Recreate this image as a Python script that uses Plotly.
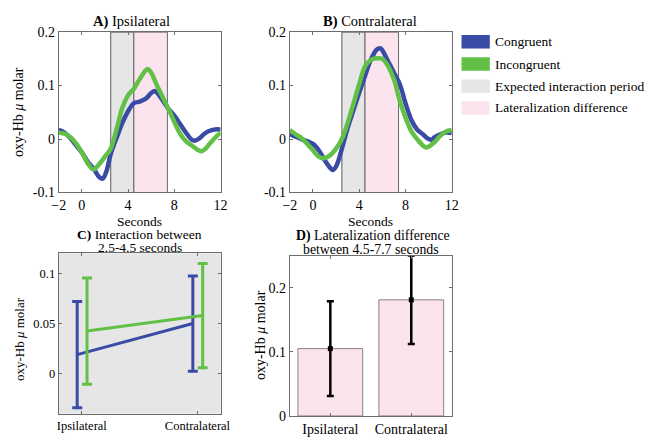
import plotly.graph_objects as go

# ---------------- data ----------------
# Panel A (Ipsilateral) time courses
tA_cong = [-2, -1.5, -1, -0.5, 0, 0.5, 1, 1.5, 1.8, 2.1, 2.5, 3, 3.5, 4, 4.5, 5, 5.5, 6, 6.3, 6.6,
           7, 7.5, 8, 8.5, 9, 9.5, 9.8, 10.2, 10.6, 11, 11.5, 12]
yA_cong = [0.017, 0.012, 0.002, -0.012, -0.025, -0.042, -0.055, -0.071, -0.074, -0.062, -0.028, 0.002,
           0.030, 0.052, 0.067, 0.070, 0.075, 0.086, 0.090, 0.084, 0.072, 0.056, 0.044, 0.028, 0.012,
           -0.001, -0.003, 0.002, 0.010, 0.015, 0.018, 0.018]
tA_inc = [-2, -1.5, -1, -0.5, 0, 0.5, 1, 1.5, 2, 2.5, 3, 3.5, 4, 4.5, 5, 5.5, 5.7, 6, 6.5, 7, 7.5, 8,
          8.5, 9, 9.5, 10, 10.3, 10.6, 11, 11.5, 12]
yA_inc = [0.012, 0.010, 0.004, -0.008, -0.025, -0.045, -0.057, -0.047, -0.033, -0.018, 0.018, 0.058,
          0.082, 0.094, 0.112, 0.128, 0.131, 0.124, 0.100, 0.078, 0.056, 0.032, 0.010, -0.004, -0.012,
          -0.020, -0.023, -0.020, -0.010, 0.002, 0.012]

# Panel B (Contralateral) time courses
tB_cong = [-2, -1, -0.5, 0, 0.5, 1, 1.5, 1.7, 2, 2.5, 3, 3.5, 4, 4.5, 5, 5.5, 5.8, 6, 6.5, 7, 7.5, 8,
           8.5, 9, 9.5, 10, 10.3, 10.5, 11, 11.5, 12]
yB_cong = [0.009, 0.000, -0.004, -0.009, -0.021, -0.039, -0.054, -0.058, -0.051, -0.018, 0.021, 0.054,
           0.087, 0.118, 0.148, 0.167, 0.170, 0.166, 0.145, 0.124, 0.103, 0.067, 0.036, 0.018, 0.009,
           0.000, -0.001, 0.003, 0.009, 0.012, 0.011]
tB_inc = [-2, -1.5, -1, -0.5, 0, 0.5, 0.9, 1.5, 2, 2.5, 3, 3.5, 4, 4.5, 5, 5.5, 6, 6.5, 7, 7.5, 8, 8.5,
          9, 9.5, 9.8, 10.5, 11, 11.5, 12]
yB_inc = [0.017, 0.009, 0.002, -0.009, -0.021, -0.033, -0.036, -0.030, -0.018, 0.000, 0.030, 0.066,
          0.103, 0.136, 0.148, 0.151, 0.150, 0.136, 0.112, 0.072, 0.040, 0.015, 0.000, -0.012, -0.016,
          -0.006, 0.006, 0.014, 0.017]

interaction_period = [2.5, 4.5]
lateral_period = [4.5, 7.4]

# Panel C (interaction)
side_labels = ["Ipsilateral", "Contralateral"]
side_pos = [1, 2]
c_cong_mean = [0.019, 0.050]
c_cong_err = [0.053, 0.0475]
c_inc_mean = [0.0425, 0.058]
c_inc_err = [0.053, 0.052]

# Panel D (lateralization difference)
d_mean = [0.105, 0.181]
d_err = [0.074, 0.069]

legend_labels = ["Congruent", "Incongruent", "Expected interaction period", "Lateralization difference"]

# ---------------- style ----------------
BLUE = "#3A4BA6"
GREEN = "#62C046"
GRAY = "#e6e6e6"
PINK = "#fbe4ee"
FONT = "Liberation Serif, Times New Roman, serif"
W, H = 649, 443
AXC = "#6e6e6e"


def px(x):
    return x / W


def py(y):
    return 1 - y / H


fig = go.Figure()

# Panel A
fig.add_trace(go.Scatter(x=tA_cong, y=yA_cong, mode="lines", line=dict(color=BLUE, width=4.5, shape="spline"),
                         xaxis="x", yaxis="y", showlegend=False))
fig.add_trace(go.Scatter(x=tA_inc, y=yA_inc, mode="lines", line=dict(color=GREEN, width=4.5, shape="spline"),
                         xaxis="x", yaxis="y", showlegend=False))
# Panel B
fig.add_trace(go.Scatter(x=tB_cong, y=yB_cong, mode="lines", line=dict(color=BLUE, width=4.5, shape="spline"),
                         xaxis="x2", yaxis="y2", showlegend=False))
fig.add_trace(go.Scatter(x=tB_inc, y=yB_inc, mode="lines", line=dict(color=GREEN, width=4.5, shape="spline"),
                         xaxis="x2", yaxis="y2", showlegend=False))

# Panel C
off_c, off_i = -0.04, 0.045
fig.add_trace(go.Scatter(x=[p + off_c for p in side_pos], y=c_cong_mean, mode="lines",
                         line=dict(color=BLUE, width=3),
                         error_y=dict(type="data", array=c_cong_err, color=BLUE, thickness=3, width=5),
                         xaxis="x3", yaxis="y3", showlegend=False))
fig.add_trace(go.Scatter(x=[p + off_i for p in side_pos], y=c_inc_mean, mode="lines",
                         line=dict(color=GREEN, width=3),
                         error_y=dict(type="data", array=c_inc_err, color=GREEN, thickness=3, width=5),
                         xaxis="x3", yaxis="y3", showlegend=False))

# Panel D
fig.add_trace(go.Bar(x=side_pos, y=d_mean, width=0.8, marker=dict(color=PINK, line=dict(color="#8e7f87", width=1)),
                     xaxis="x4", yaxis="y4", showlegend=False))
fig.add_trace(go.Scatter(x=side_pos, y=d_mean, mode="markers", marker=dict(color="black", size=5, symbol="square"),
                         error_y=dict(type="data", array=d_err, color="black", thickness=2.5, width=3.5),
                         xaxis="x4", yaxis="y4", showlegend=False, cliponaxis=False))

shapes = []
for xr, yr in [("x", "y domain"), ("x2", "y2 domain")]:
    shapes.append(dict(type="rect", xref=xr, yref=yr, x0=interaction_period[0], x1=interaction_period[1],
                       y0=0, y1=1, fillcolor=GRAY, line=dict(color="#5a5a5a", width=1), layer="below"))
    shapes.append(dict(type="rect", xref=xr, yref=yr, x0=lateral_period[0], x1=lateral_period[1],
                       y0=0, y1=1, fillcolor=PINK, line=dict(color="#6a6a6a", width=1), layer="below"))
# Panel C background
shapes.append(dict(type="rect", xref="x3 domain", yref="y3 domain", x0=0, x1=1, y0=0, y1=1,
                   fillcolor=GRAY, line=dict(width=0), layer="below"))

# legend swatches
leg_colors = [BLUE, GREEN, GRAY, PINK]
leg_y = [36, 59, 82, 104.5]
annotations = []
for c, yy, lab in zip(leg_colors, leg_y, legend_labels):
    shapes.append(dict(type="rect", xref="paper", yref="paper", x0=px(466), x1=px(495),
                       y0=py(yy + 7), y1=py(yy - 7), fillcolor=c, line=dict(width=0)))
    annotations.append(dict(x=px(498), y=py(yy), xref="paper", yref="paper", text=lab, showarrow=False,
                            xanchor="left", yanchor="middle", font=dict(family=FONT, size=13.5, color="black")))


def ann(x, y, text, size=13, angle=0):
    annotations.append(dict(x=px(x), y=py(y), xref="paper", yref="paper", text=text, showarrow=False,
                            xanchor="center", yanchor="middle", textangle=angle,
                            font=dict(family=FONT, size=size, color="black")))


ann(128, 15, "<b>A)</b> Ipsilateral", 14.5)
ann(372, 15, "<b>B)</b> Contralateral", 14.5)
ann(136, 222, "Seconds", 13.5)
ann(373, 222, "Seconds", 13.5)
ann(136, 235, "<b>C)</b> Interaction between", 13.5)
ann(136, 249, "2.5-4.5 seconds", 13.5)
ann(375, 237, "<b>D)</b> Lateralization difference", 13.8)
ann(373, 251, "between 4.5-7.7 seconds", 13.8)
ann(12, 109, "oxy-Hb <i>μ</i> molar", 14, -90)
ann(13, 344, "oxy-Hb <i>μ</i> molar", 13, -90)
ann(260, 340, "oxy-Hb <i>μ</i> molar", 14, -90)

axis_common = dict(showline=True, linecolor=AXC, linewidth=1, mirror="ticks", ticks="inside", ticklen=3,
                   tickcolor=AXC, showgrid=False, zeroline=False,
                   tickfont=dict(family=FONT, size=14, color="black"))

xA_ticks = [-2, 0, 4, 8, 12]
yA_ticks = [-0.1, 0, 0.1, 0.2]
yA_text = ["-0.1", "0", "0.1", "0.2"]

fig.update_layout(
    width=W, height=H, margin=dict(l=0, r=0, t=0, b=0),
    paper_bgcolor="white", plot_bgcolor="white",
    xaxis=dict(domain=[px(53), px(219)], range=[-2, 12], tickvals=xA_ticks, anchor="y", **axis_common),
    yaxis=dict(domain=[py(192), py(26)], range=[-0.1, 0.2], tickvals=yA_ticks, ticktext=yA_text, anchor="x",
               **axis_common),
    xaxis2=dict(domain=[px(290), px(456)], range=[-2, 12], tickvals=xA_ticks, anchor="y2", **axis_common),
    yaxis2=dict(domain=[py(192), py(26)], range=[-0.1, 0.2], tickvals=yA_ticks, ticktext=yA_text, anchor="x2",
                **axis_common),
    xaxis3=dict(domain=[px(53), px(219)], range=[0.8, 2.2], tickvals=side_pos, ticktext=side_labels, anchor="y3",
                **{**axis_common, "tickfont": dict(family=FONT, size=12.5, color="black")}),
    yaxis3=dict(domain=[py(421), py(255)], range=[-0.04, 0.12], tickvals=[0, 0.05, 0.1],
                ticktext=["0", "0.05", "0.1"], anchor="x3",
                **{**axis_common, "tickfont": dict(family=FONT, size=12.5, color="black")}),
    xaxis4=dict(domain=[px(290), px(456)], range=[0.5, 2.5], tickvals=side_pos, ticktext=side_labels, anchor="y4",
                **axis_common),
    yaxis4=dict(domain=[py(423.3), py(257.3)], range=[0, 0.25], tickvals=[0, 0.1, 0.2],
                ticktext=["0", "0.1", "0.2"], anchor="x4", **axis_common),
    shapes=shapes, annotations=annotations,
)

fig.write_html("out.html")
